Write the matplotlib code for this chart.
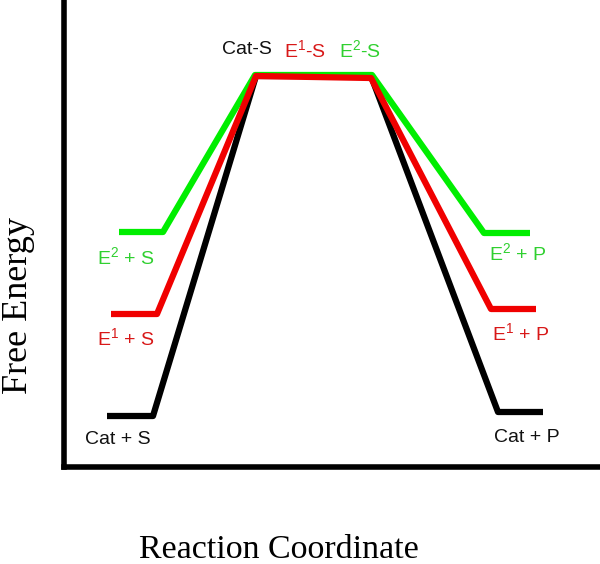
import matplotlib
matplotlib.use("Agg")
from matplotlib import pyplot as plt

plt.rcParams['mathtext.fontset'] = 'custom'
plt.rcParams['mathtext.rm'] = 'Liberation Sans'
plt.rcParams['mathtext.default'] = 'regular'

# reaction coordinate / free energy of each profile (arbitrary units)
cat_x = [43, 89, 192, 307, 434, 479]
cat_g = [51, 51, 391, 391, 55, 55]
e1_x = [47, 93, 192, 307, 427, 472]
e1_g = [153, 153, 391, 389, 158, 158]
e2_x = [55, 99, 191, 308, 420, 466]
e2_g = [235, 235, 392, 392, 234, 234]

# state labels: text, x, y, colour key
labels = [
    ("Cat-S", 183, 417, "k"),
    ("E$^1$-S", 241, 417, "r"),
    ("E$^2$-S", 296, 417, "g"),
    ("E$^2$ + S", 62, 210, "g"),
    ("E$^1$ + S", 62, 129, "r"),
    ("Cat + S", 54, 27, "k"),
    ("E$^2$ + P", 454, 214, "g"),
    ("E$^1$ + P", 457, 134, "r"),
    ("Cat + P", 463, 30, "k"),
]

line_col = {"k": "#000000", "r": "#f00000", "g": "#00ee00"}
text_col = {"k": "#111111", "r": "#d81818", "g": "#30d030"}

fig = plt.figure(figsize=(6, 5.64), dpi=100)
ax = fig.add_axes([64 / 600, 97 / 564, 536 / 600, 467 / 564])

ax.plot(cat_x, cat_g, color=line_col["k"], lw=4.5, solid_capstyle="butt", zorder=2)
ax.plot(e2_x, e2_g, color=line_col["g"], lw=4.5, solid_capstyle="butt", zorder=3)
ax.plot(e1_x, e1_g, color=line_col["r"], lw=4.5, solid_capstyle="butt", zorder=4)

for txt, x, y, c in labels:
    ax.text(x, y, txt, color=text_col[c], fontsize=14, family="Liberation Sans",
            ha="center", va="center")

ax.set_xlim(0, 536)
ax.set_ylim(0, 467)
ax.set_xticks([])
ax.set_yticks([])
for s in ["top", "right"]:
    ax.spines[s].set_visible(False)
for s in ["left", "bottom"]:
    ax.spines[s].set_linewidth(4)

fig.text(279 / 600, 1 - 550 / 564, "Reaction Coordinate", family="Liberation Serif",
         fontsize=24.5, ha="center", va="center")
fig.text(19 / 600, 1 - 306 / 564, "Free Energy", family="Liberation Serif",
         fontsize=26, ha="center", va="center", rotation=90)

fig.savefig("out.png", dpi=100)
